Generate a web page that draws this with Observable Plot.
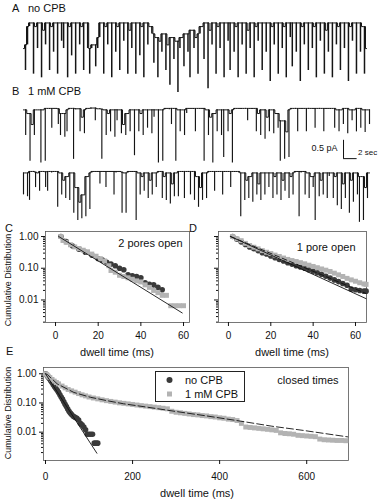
<!DOCTYPE html>
<html><head><meta charset="utf-8">
<script src="https://cdn.jsdelivr.net/npm/d3@7"></script>
<script src="https://cdn.jsdelivr.net/npm/@observablehq/plot@0.6"></script>
<style>
body{margin:0;background:#fff;font-family:"Liberation Sans",Arial,sans-serif;}
#fig{position:relative;width:378px;height:500px;overflow:hidden;background:#fff;}
.lbl{position:absolute;color:#111;white-space:nowrap;line-height:1;}
</style></head><body><div id="fig"></div>
<script>
// ---------- single-channel traces (current, pA), one sample per dt seconds ----------
const dt = 0.32;
const traceA = [0.9,0.3,1.0,1.5,
 1.6,0.2,1.5,0.9,1.6,0.1,1.4,1.0,1.6,0.3,1.5,0.8,1.6,0.2,1.6,1.1,0.9,1.6,0.1,1.5,0.7,1.6,0.2,1.6,1.0,1.5,0.3,1.6,0.9,0.2,
 0.9,1.0,0.4,0.9,1.2,
 1.6,0.2,1.5,1.0,1.6,0.1,1.6,0.8,1.5,0.3,1.6,1.1,1.6,0.2,1.4,0.9,1.6,0.2,1.6,0.7,1.5,0.1,1.6,1.0,1.5,
 1.3,0.5,1.2,0.1,1.1,0.8,1.3,0.3,1.0,-0.1,1.2,0.6,1.1,-0.3,0.9,1.2,0.4,1.3,0.8,0.1,1.4,0.9,1.2,0.2,1.3,
 1.5,0.6,1.6,-0.2,1.4,1.0,1.6,0.2,1.5,0.9,1.6,0.1,1.6,1.1,0.3,1.6,0.8,1.5,0.1,1.6,1.0,1.6,0.2,1.4,0.9,1.6,0.1,1.5,1.1,1.6,
 0.3,1.6,0.8,1.6,0.0,1.5,1.0,1.6,0.2,1.6,0.9,1.5,0.1,1.6,1.2,0.4,1.6,0.8,1.6,0.0,1.5,1.0,1.6,0.3,1.6,0.9,1.5,0.1,1.6,1.1,
 1.6,0.2,1.4,0.8,1.6,0.1,1.6,1.0,1.5,0.3,1.6,0.9,1.6,0.0,1.5,1.1,1.6,0.2,1.6,0.8,1.5,0.2,0.9];
const traceB1 = [1.6,0.9,1.5,0.2,1.2,0.9,1.6,
 1.6,0.15,1.6,0.2,
 1.64,1.62,1.1,1.64,1.63,1.2,
 0.9,1.5,0.85,1.0,1.6,
 1.64,0.25,1.6,1.63,
 1.0,1.4,0.95,1.6,
 1.64,1.62,1.65,1.3,1.63,1.62,
 0.25,
 1.6,0.9,1.5,1.0,1.6,0.85,1.3,1.6,
 0.95,1.2,0.9,1.5,1.0,1.6,
 0.35,
 1.6,1.0,1.5,0.9,1.6,1.1,1.6,0.95,1.4,1.6,
 0.15,1.6,0.2,1.6,
 1.64,1.6,1.2,1.64,
 0.2,1.6,
 1.0,1.6,0.9,1.5,1.64,
 1.64,1.62,1.0,1.64,1.63,1.64,
 0.2,1.6,0.9,1.4,0.15,1.5,1.0,1.6,0.9,0.3,1.6,1.0,1.5,0.15,1.6,1.64,
 1.64,1.62,1.64,1.63,1.3,1.64,1.62,1.64,
 1.0,1.5,0.9,1.6,0.8,1.4,1.0,1.6,0.95,1.5,1.1,
 0.2,1.3,0.25,1.0,0.3,1.6,
 1.64,1.62,1.0,1.64,1.63,1.64,1.0,1.62,1.64,1.63,1.1,1.64,1.62,1.64,1.0,1.63,1.64,1.62,1.64,
 1.1,1.6,1.0,1.6,1.2,1.64,0.95,1.6,1.3,1.6,1.0,1.64,1.1,1.6,0.98,1.6,1.2];
const traceB2 = [1.0,1.6,0.95,
 0.85,
 1.64,1.62,1.2,1.6,1.1,1.64,1.63,1.2,
 1.1,1.64,1.6,1.63,1.64,
 0.66,
 1.6,1.0,1.4,0.9,1.5,0.85,1.6,
 0.5,1.2,0.3,0.8,0.35,1.0,0.4,1.5,
 0.6,1.6,1.64,
 1.64,1.62,1.3,1.64,1.63,1.2,1.64,1.62,1.64,
 1.0,1.6,1.64,1.62,
 0.5,1.6,0.5,1.6,
 1.64,1.62,1.64,
 0.3,
 1.6,1.0,1.5,1.1,1.6,0.9,1.4,1.0,1.6,1.2,1.6,1.64,
 0.9,1.5,0.85,1.6,0.75,1.3,0.95,1.6,
 0.95,1.64,1.62,0.9,1.64,1.63,1.0,1.64,
 0.85,1.5,0.66,1.2,0.85,1.6,0.9,1.6,
 1.64,1.62,1.1,1.64,1.63,1.64,1.0,1.62,1.64,1.63,1.2,1.64,1.62,1.64,1.6,
 0.4,
 1.6,0.85,1.4,0.9,1.5,0.8,1.6,1.0,1.3,0.85,1.6,1.0,1.6,
 1.2,1.6,0.9,1.5,1.0,1.6,0.85,1.4,1.1,1.6,0.9,1.5,1.0,1.6,
 1.64,0.4,1.6,1.64,
 1.0,1.6,0.9,1.5,1.2,0.3,1.6,0.95,1.4,1.0,1.6,0.9,1.5,1.6,
 0.9,1.5,0.7,1.6,0.6,1.3,0.9,1.6,0.5,1.4,0.8,1.6,1.0,0.25,1.5,0.3,1.2,0.9,1.6];
const scaleBar = [{t:47.06, i:0.27, dT:2, dI:0.5}];

// ---------- cumulative dwell-time distributions: [dwell time (ms), fraction] ----------
const cNoCPB = [[2.5,1.0],[5,0.7],[8,0.5],[11,0.4],[14,0.32],[17,0.26],[20,0.2],[22,0.18],[24,0.155],[26,0.135],[28,0.12],[30,0.1],[32,0.09],[34,0.062],[36,0.058],[38,0.055],[40,0.05],[42,0.035],[44,0.031],[46,0.03],[48,0.025],[50,0.021]];
const cCPB = [[2.5,1.0],[3.5,0.75],[5,0.66],[7,0.55],[9,0.47],[11,0.42],[13,0.37],[15,0.33],[17,0.28],[19,0.24],[21,0.2],[23,0.17],[25,0.12],[26,0.085],[28,0.075],[30,0.06],[32,0.055],[34,0.05],[36,0.045],[38,0.04],[40,0.037],[42,0.03],[44,0.025],[46,0.02],[48,0.017],[50,0.014],[52,0.014],[54,0.0066],[56,0.0066],[58,0.0066],[60,0.0066]];
const cFit = [[1.5,1.0],[59.4,0.0039]];

const dNoCPB = [[2,1.0],[4,0.82],[6,0.68],[8,0.56],[10,0.47],[12,0.41],[14,0.36],[16,0.31],[18,0.28],[20,0.245],[22,0.215],[24,0.19],[26,0.17],[28,0.15],[30,0.135],[32,0.12],[34,0.11],[36,0.1],[38,0.09],[40,0.08],[42,0.072],[44,0.064],[46,0.056],[48,0.049],[50,0.043],[52,0.038],[54,0.033],[56,0.029],[58,0.022],[60,0.021],[62,0.02],[64,0.019],[65,0.019]];
const dCPB = [[2,1.0],[4,0.85],[6,0.74],[8,0.61],[10,0.52],[12,0.46],[14,0.41],[16,0.36],[18,0.32],[20,0.29],[22,0.26],[24,0.235],[26,0.21],[28,0.19],[30,0.175],[32,0.163],[34,0.15],[36,0.138],[38,0.125],[40,0.114],[42,0.104],[44,0.095],[46,0.087],[48,0.079],[50,0.07],[52,0.062],[54,0.055],[56,0.048],[58,0.043],[60,0.039],[62,0.035],[64,0.032],[65,0.031]];
const dFit = [[1,1.0],[65,0.011]];
const dFit2 = [[1,1.0],[65,0.016]];

const eNoCPB = [[0,1.0],[3,0.9],[6,0.78],[9,0.68],[12,0.58],[15,0.5],[18,0.42],[21,0.36],[24,0.31],[27,0.27],[30,0.23],[33,0.19],[36,0.16],[39,0.135],[42,0.11],[45,0.09],[48,0.075],[51,0.062],[54,0.052],[57,0.045],[60,0.04],[64,0.035],[68,0.032],[72,0.03],[76,0.026],[80,0.02],[84,0.018],[88,0.015],[92,0.012],[96,0.0085],[100,0.0085],[104,0.0085],[108,0.0085],[112,0.0042],[116,0.0042],[120,0.0042]];
const eCPB = [[0,1.0],[3,0.92],[6,0.82],[10,0.74],[15,0.64],[20,0.56],[25,0.5],[30,0.45],[38,0.38],[45,0.33],[52,0.29],[60,0.26],[68,0.235],[76,0.21],[84,0.19],[92,0.175],[100,0.16],[110,0.148],[120,0.138],[130,0.128],[140,0.12],[150,0.113],[160,0.107],[170,0.101],[180,0.097],[190,0.093],[200,0.089],[210,0.085],[220,0.081],[230,0.078],[240,0.075],[250,0.072],[260,0.069],[270,0.066],[280,0.063],[290,0.052],[300,0.048],[310,0.046],[320,0.044],[330,0.042],[340,0.04],[350,0.039],[360,0.037],[370,0.036],[380,0.034],[390,0.033],[400,0.031],[410,0.03],[420,0.028],[430,0.027],[440,0.025],[450,0.02],[460,0.015],[470,0.0145],[480,0.014],[490,0.0135],[500,0.013],[510,0.0125],[520,0.012],[530,0.0115],[540,0.0095],[550,0.009],[560,0.0088],[570,0.0085],[580,0.0078],[590,0.0076],[600,0.0074],[610,0.0072],[620,0.007],[630,0.0058],[640,0.0055],[650,0.0054],[660,0.0053],[670,0.0052],[680,0.0052],[690,0.0051]];
const eFitNoCPB = [[0,1.0],[118,0.0019]];
const eFitCPB = [[0,1.0],[4,0.95],[27,0.45],[65,0.23],[103,0.157],[141,0.12],[179,0.094],[233,0.072],[300,0.051],[370,0.036],[447,0.024],[520,0.016],[592,0.0115],[694,0.0069]];

const yMajorTicks = [1, 0.1, 0.01];
const xTicksCD = [0, 20, 40, 60];
const xTicksE = [0, 200, 400, 600];
const seriesNames = ["no CPB", "1 mM CPB"];

// ---------- helpers ----------
const darkCol = "#3a3a3a", grayCol = "#b3b3b3";
const fig = document.getElementById("fig");
const baseStyle = {background:"transparent", overflow:"visible", fontFamily:"'Liberation Sans', Arial, sans-serif", fontSize:"10px", color:"#111"};
const toObj = a => a.map(([t,p]) => ({t, p}));
const yMinorTicks = d3.range(2,10).flatMap(k => [k*0.001, k*0.01, k*0.1]);
function put(node, left, top){ node.style.position="absolute"; node.style.left=left+"px"; node.style.top=top+"px"; fig.appendChild(node); return node; }
function label(text, x, base, size, anchor){
  const d=document.createElement("div"); d.className="lbl"; d.textContent=text; d.style.fontSize=size+"px";
  d.style.left=x+"px"; d.style.top=(base-0.85*size)+"px";
  if(anchor==="middle") d.style.transform="translateX(-50%)";
  fig.appendChild(d); return d;
}
function vlabel(text, cx, cy, size){
  const d=document.createElement("div"); d.className="lbl"; d.textContent=text; d.style.fontSize=size+"px";
  d.style.left=cx+"px"; d.style.top=cy+"px"; d.style.transform="translate(-50%,-50%) rotate(-90deg)";
  fig.appendChild(d);
}

// each sample is drawn as a fast vertical transition from the local open level down to its value
function trace(vals, top, height, ymin, ymax, mr, sw, extra){
  const pts = vals.map((v,k)=>({t:k*dt, i:v, top:Math.max(v, vals[k-1] ?? v, vals[k+1] ?? v)}));
  const p = Plot.plot({width:378, height, marginLeft:23, marginRight:mr, marginTop:0, marginBottom:0,
    x:{domain:[0,(vals.length-1)*dt], axis:null}, y:{domain:[ymin,ymax], axis:null}, style:baseStyle,
    marks:[
      Plot.line(pts,{x:"t", y:"top", curve:"step", stroke:"#151515", strokeWidth:1}),
      Plot.ruleX(pts,{x:"t", y1:"top", y2:"i", stroke:"#151515", strokeWidth:sw}),
      ...(extra||[])]});
  return put(p, 0, top);
}

trace(traceA, 10, 90, -0.52, 1.94, 12, 1.5);
trace(traceB1, 98, 77, -0.19, 1.91, 9, 1.15, [
  Plot.ruleX(scaleBar,{x:"t", y1:"i", y2:d=>d.i+d.dI, stroke:"#111", strokeWidth:1}),
  Plot.ruleY(scaleBar,{y:"i", x1:"t", x2:d=>d.t+d.dT, stroke:"#111", strokeWidth:1}),
  Plot.text(scaleBar,{x:"t", y:d=>d.i+d.dI*0.58, text:d=>d.dI+" pA", textAnchor:"end", dx:-6, fontSize:9}),
  Plot.text(scaleBar,{x:d=>d.t+d.dT, y:"i", text:d=>d.dT+" sec", textAnchor:"start", dx:1, dy:-6, fontSize:8})
]);
trace(traceB2, 162, 68, 0.027, 1.885, 9, 1.15);

function cdf(o){
  const marks = [
    Plot.frame({stroke:"#555", strokeWidth:0.8}),
    Plot.axisY({ticks:yMajorTicks, tickSize:4, tickPadding:3, label:null, tickFormat: o.ylabels ? d3.format(".2f") : ()=>""}),
    Plot.axisY({ticks:yMinorTicks, tickSize:2, label:null, tickFormat:()=>""}),
    Plot.axisX({ticks:o.xticks, tickSize:4, tickPadding:o.tp, label:null}),
    Plot.dot(toObj(o.dark),{x:"t", y:"p", r:2.8, fill:darkCol, symbol:"circle"}),
    Plot.dot(toObj(o.gray),{x:"t", y:"p", r:2.8, fill:grayCol, symbol:"square"}),
    ...o.fits.map(f => Plot.line(toObj(f.d),{x:"t", y:"p", stroke:"#111", strokeWidth:0.9, strokeDasharray:f.dash||null})),
    Plot.text([o.note],{frameAnchor:"top-right", textAnchor:"end", lineAnchor:"middle", dx:o.ndx, dy:o.ndy, fontSize:11})
  ];
  const p = Plot.plot({width:o.w, height:o.h, marginLeft:o.ml, marginRight:o.mr, marginTop:o.mt, marginBottom:o.mb,
    x:{domain:o.xd}, y:{type:"log", domain:o.yd}, style:baseStyle, marks});
  return put(p, o.left, o.top);
}

cdf({left:0, top:225, w:192, h:120, ml:45, mr:3, mt:6, mb:23, xd:[-4.7,62.8], yd:[0.00195,1.44], xticks:xTicksCD, tp:5, ylabels:true,
  dark:cNoCPB, gray:cCPB, fits:[{d:cFit}], note:"2 pores open", ndx:-7, ndy:12});
cdf({left:190, top:225, w:188, h:120, ml:28, mr:12, mt:6, mb:23, xd:[-4.7,65.2], yd:[0.00195,1.44], xticks:xTicksCD, tp:5, ylabels:false,
  dark:dNoCPB, gray:dCPB, fits:[{d:dFit},{d:dFit2, dash:"5,3"}], note:"1 pore open", ndx:-11, ndy:16});
cdf({left:0, top:365, w:378, h:135, ml:43, mr:30, mt:2, mb:40, xd:[-4.6,696], yd:[0.00107,1.64], xticks:xTicksE, tp:8, ylabels:true,
  dark:eNoCPB, gray:eCPB, fits:[{d:eFitNoCPB},{d:eFitCPB, dash:"7,3"}], note:"closed times", ndx:-10, ndy:13});

// legend for panel E
const leg = document.createElement("div");
Object.assign(leg.style,{position:"absolute", left:"155px", top:"371px", width:"90px", height:"31px", border:"1px solid #222", boxSizing:"border-box"});
fig.appendChild(leg);
const legSvg = d3.create("svg").attr("width",20).attr("height",30).style("position","absolute").style("left","5px").style("top","0px");
legSvg.append("circle").attr("cx",8.5).attr("cy",8).attr("r",3).attr("fill",darkCol);
legSvg.append("rect").attr("x",6).attr("y",19.5).attr("width",5).attr("height",5).attr("fill",grayCol);
leg.appendChild(legSvg.node());
label(seriesNames[0], 185, 384, 11);
label(seriesNames[1], 185, 398, 11);

// panel letters, titles, axis titles
label("A", 12, 12, 11); label(seriesNames[0], 28, 12, 11);
label("B", 12, 95, 11); label(seriesNames[1], 28, 95, 11);
label("C", 5, 232, 11); label("D", 189, 232, 11); label("E", 6, 355, 11);
label("dwell time (ms)", 117, 356, 11, "middle");
label("dwell time (ms)", 292, 356, 11, "middle");
label("dwell time (ms)", 197, 497, 11, "middle");
vlabel("Cumulative Distribution", 8, 280, 9);
vlabel("Cumulative Distribution", 8, 413, 9);
</script></body></html>
